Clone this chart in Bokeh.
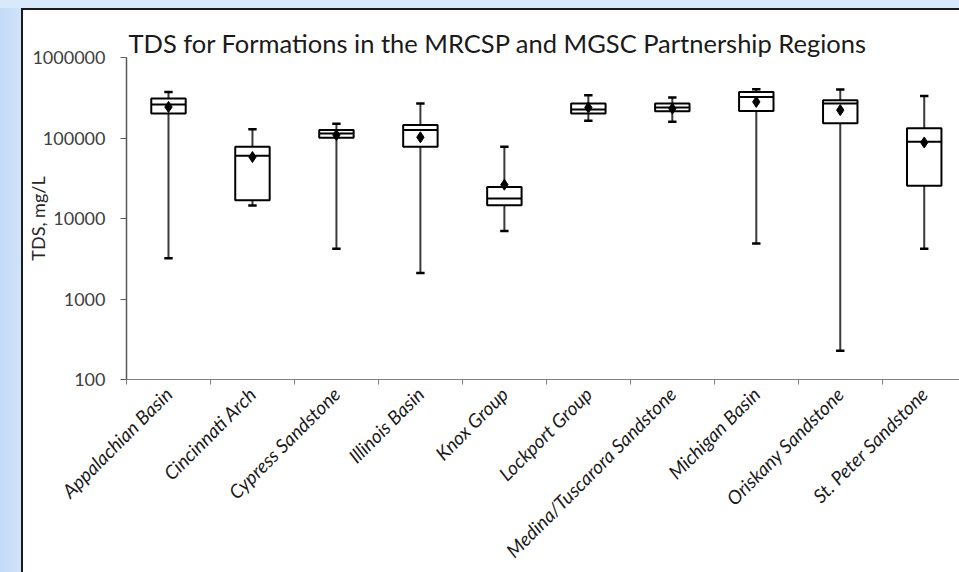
import math
from bokeh.plotting import figure
from bokeh.models import Range1d, FixedTicker, PrintfTickFormatter, ColumnDataSource, InlineStyleSheet
from bokeh.embed import file_html
from bokeh.resources import INLINE

# ---- data ----
formations = ["Appalachian Basin", "Cincinnati Arch", "Cypress Sandstone", "Illinois Basin",
              "Knox Group", "Lockport Group", "Medina/Tuscarora Sandstone", "Michigan Basin",
              "Oriskany Sandstone", "St. Peter Sandstone"]
tds_min = [3200, 14500, 4200, 2100, 7000, 164000, 159000, 4900, 228, 4200]
tds_q1 = [202000, 16800, 101000, 78000, 14600, 202000, 215000, 217000, 152000, 25500]
tds_median = [261000, 60400, 114000, 126000, 17700, 226000, 239000, 324000, 268000, 90000]
tds_q3 = [309000, 78000, 126000, 145000, 24600, 268000, 268000, 373000, 294000, 132000]
tds_max = [373000, 128000, 150000, 268000, 78000, 340000, 318000, 403000, 399000, 333000]
tds_mean = [243000, 58000, 109000, 102000, 26300, 239000, 232000, 281000, 222000, 88000]
y_ticks = [100, 1000, 10000, 100000, 1000000]

title_text = "TDS for Formations in the MRCSP and MGSC Partnership Regions"
y_label = "TDS, mg/L"

# ---- layout constants ----
BOX_W = 0.41
CAP_HALF = 0.05
FONT = "Lato"

xs = [i + 0.5 for i in range(len(formations))]
src = ColumnDataSource(dict(
    x=xs, lo=tds_min, q1=tds_q1, med=tds_median, q3=tds_q3, hi=tds_max, mean=tds_mean,
    cap_l=[x - CAP_HALF for x in xs], cap_r=[x + CAP_HALF for x in xs],
    box_l=[x - BOX_W / 2 for x in xs], box_r=[x + BOX_W / 2 for x in xs],
))

p = figure(width=959, height=572,
           x_range=Range1d(0, 9.92), y_range=Range1d(100, 1000000),
           y_axis_type="log", output_backend="svg", toolbar_location=None,
           min_border_left=126, min_border_right=0, min_border_top=57, min_border_bottom=191)

p.background_fill_color = "white"
p.border_fill_color = None
p.outline_line_color = None
p.xgrid.grid_line_color = None
p.ygrid.grid_line_color = None

# slide background strips and chart-area border, drawn behind the transparent canvas
css = """
:host {
  background-color: #ffffff;
  background-image:
    linear-gradient(#d9e9fc, #d9e9fc),
    linear-gradient(to right, #c4dbf7, #cfe3fa),
    linear-gradient(#1a1a1a, #1a1a1a),
    linear-gradient(#1a1a1a, #1a1a1a);
  background-position: 0 0, 0 0, 21px 8px, 21px 8px;
  background-size: 100% 8px, 21px 100%, 2px 100%, 100% 2px;
  background-repeat: no-repeat;
}
"""
p.stylesheets = [InlineStyleSheet(css=css)]

# whiskers (high-low line)
p.segment(x0="x", y0="lo", x1="x", y1="hi", source=src, line_color="#3a3a3a", line_width=2)
p.segment(x0="cap_l", y0="lo", x1="cap_r", y1="lo", source=src, line_color="black", line_width=2.5)
p.segment(x0="cap_l", y0="hi", x1="cap_r", y1="hi", source=src, line_color="black", line_width=2.5)
# boxes
p.quad(left="box_l", right="box_r", bottom="q1", top="q3", source=src,
       fill_color="white", line_color="black", line_width=2)
p.segment(x0="box_l", y0="med", x1="box_r", y1="med", source=src, line_color="black", line_width=2)
# means
p.scatter(x="x", y="mean", source=src, marker="diamond", size=11, fill_color="black", line_color="black")

# x axis
xa = p.xaxis[0]
xa.ticker = FixedTicker(ticks=xs, minor_ticks=list(range(len(formations) + 1)))
xa.major_label_overrides = {x: name for x, name in zip(xs, formations)}
xa.major_label_orientation = math.pi / 4
xa.major_tick_in = 0
xa.major_tick_out = 0
xa.minor_tick_in = 0
xa.minor_tick_out = 5
xa.minor_tick_line_color = "#7f7f7f"
xa.axis_line_color = "#7f7f7f"
xa.major_label_standoff = 6
xa.major_label_text_font = FONT
xa.major_label_text_font_style = "italic"
xa.major_label_text_font_size = "19px"
xa.major_label_text_color = "#1a1a1a"

# y axis
ya = p.yaxis[0]
ya.ticker = FixedTicker(ticks=y_ticks)
ya.formatter = PrintfTickFormatter(format="%d")
ya.minor_tick_line_color = None
ya.major_tick_in = 0
ya.major_tick_out = 6
ya.major_tick_line_color = "#595959"
ya.axis_line_color = "#595959"
ya.axis_line_width = 1.5
ya.major_label_standoff = 15
ya.major_label_text_font = FONT
ya.major_label_text_font_size = "18px"
ya.major_label_text_color = "#404040"
ya.axis_label = y_label
ya.axis_label_text_font = FONT
ya.axis_label_text_font_style = "normal"
ya.axis_label_text_font_size = "18px"
ya.axis_label_text_color = "#262626"
ya.axis_label_standoff = -20

# title
p.title.text = title_text
p.title.align = "left"
p.title.offset = 2
p.title.standoff = 0
p.title.text_font = FONT
p.title.text_font_style = "normal"
p.title.text_font_size = "25.5px"
p.title.text_color = "#1a1a1a"

open("out.html", "w").write(file_html(p, INLINE))
